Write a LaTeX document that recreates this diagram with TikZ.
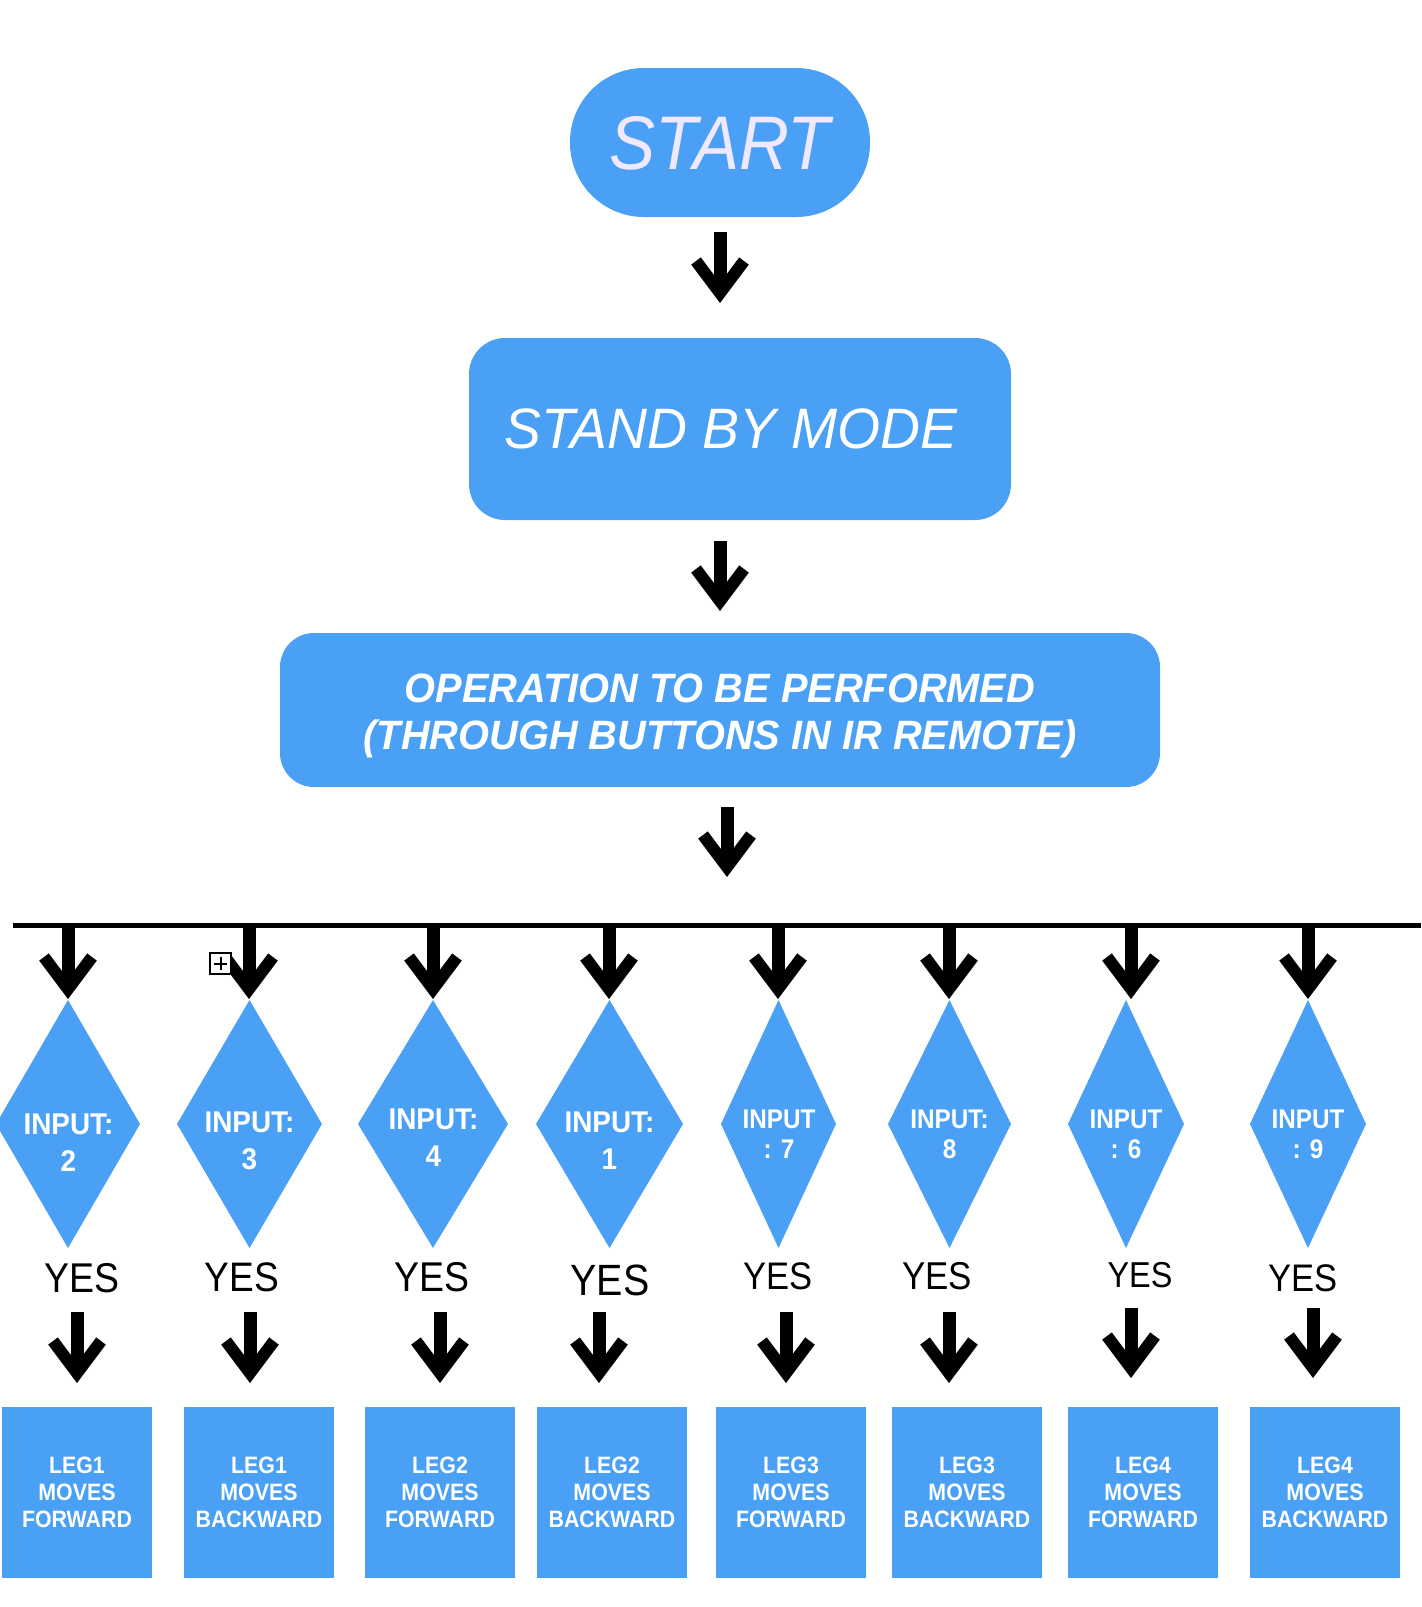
\documentclass[tikz,border=0pt]{standalone}
\usepackage{fontspec}
\setmainfont{Liberation Sans}
\newfontfamily\fStart[FakeStretch=0.91]{Liberation Sans}
\newfontfamily\fMid[FakeStretch=0.97]{Liberation Sans}
\newfontfamily\fDia[FakeStretch=0.93]{Liberation Sans}
\newfontfamily\fNar[FakeStretch=0.9]{Liberation Sans}
\usetikzlibrary{shapes.geometric}
\definecolor{fcblue}{HTML}{4AA0F5}
\definecolor{lav}{HTML}{EFE8FF}
\newcommand{\bigarr}[2]{%
  \draw[stemline] (#1) -- ([yshift=5pt]#2);
  \draw[chevline] ([shift={(-24,-42)}]#2) -- ([yshift=5pt]#2) -- ([shift={(24,-42)}]#2);
}
\begin{document}
\begin{tikzpicture}[x=0.5pt,y=-0.5pt,
  bluebox/.style={fill=fcblue, draw=none, inner sep=0pt, outer sep=0pt},
  dia/.style={diamond, fill=fcblue, draw=none, inner sep=0pt, outer sep=0pt, minimum height=124pt},
  dtxtA/.style={text=white, align=center, inner sep=0pt, font=\fDia\bfseries\fontsize{15}{18.5}\selectfont},
  dtxtB/.style={text=white, align=center, inner sep=0pt, font=\fNar\bfseries\fontsize{13.5}{15}\selectfont},
  legbox/.style={bluebox, minimum width=75pt, minimum height=85.5pt, text=white, align=center, font=\fNar\bfseries\fontsize{11.85}{13.5}\selectfont},
  yes/.style={anchor=base, inner sep=0pt, text=black},
  stemline/.style={line width=6.5pt, line cap=butt},
  chevline/.style={line width=6pt, line cap=butt, line join=miter, miter limit=10},
  busline/.style={line width=2.5pt}
]
\useasboundingbox (0,0) rectangle (1421,1607);

% top boxes
\node[bluebox, rounded corners=37pt, minimum width=150pt, minimum height=74.5pt, text=lav,
  font=\fStart\itshape\fontsize{38}{40}\selectfont, text depth=0pt] (start) at (720,142.5) {START};
\node[bluebox, rounded corners=18pt, minimum width=271pt, minimum height=91pt, text=white,
  font=\fMid\itshape\fontsize{28.5}{30}\selectfont, text depth=0pt] (standby) at (740,429) {STAND BY MODE\kern9pt};
\node[bluebox, rounded corners=17pt, minimum width=440pt, minimum height=77pt] (op) at (720,710) {};
\node[text=white, align=center, inner sep=0pt, text depth=0pt,
  font=\fMid\bfseries\itshape\fontsize{20.5}{23.5}\selectfont] (optext) at (720,712)
  {OPERATION TO BE PERFORMED\\(THROUGH BUTTONS IN IR REMOTE)};

% top arrows
\coordinate (a1s) at (720,232); \coordinate (a1e) at (720,303);
\coordinate (a2s) at (720,541); \coordinate (a2e) at (720,611);
\coordinate (a3s) at (727,807); \coordinate (a3e) at (727,877);
\bigarr{a1s}{a1e}
\bigarr{a2s}{a2e}
\bigarr{a3s}{a3e}

% bus line
\coordinate (busL) at (13,925); \coordinate (busR) at (1421,925);
\draw[busline] (busL) -- (busR);

% diamonds
\node[dia, minimum width=72pt]   (d1) at (68,1124) {};
\node[dia, minimum width=72.5pt] (d2) at (249.5,1124) {};
\node[dia, minimum width=75pt]   (d3) at (433,1124) {};
\node[dia, minimum width=73.5pt] (d4) at (609.5,1124) {};
\node[dia, minimum width=57.5pt] (d5) at (778.5,1124) {};
\node[dia, minimum width=61.5pt] (d6) at (949.5,1124) {};
\node[dia, minimum width=58pt]   (d7) at (1126,1124) {};
\node[dia, minimum width=58pt]   (d8) at (1308,1124) {};

\node[dtxtA] (l1) at (68.5,1142.75) {INPUT:\\2};
\node[dtxtA] (l2) at (249.5,1140.75) {INPUT:\\3};
\node[dtxtA] (l3) at (433.5,1137.75) {INPUT:\\4};
\node[dtxtA] (l4) at (609.5,1140.75) {INPUT:\\1};
\node[dtxtB] (l5) at (779,1134.4) {INPUT\\: 7};
\node[dtxtB] (l6) at (949.5,1134.4) {INPUT:\\8};
\node[dtxtB] (l7) at (1126,1134.4) {INPUT\\: 6};
\node[dtxtB] (l8) at (1308,1134.4) {INPUT\\: 9};

% arrows from bus to diamonds
\foreach \i/\x in {1/68,2/249,3/433,4/609,5/778,6/949,7/1131,8/1308}{
  \coordinate (bs\i) at (\x,928);
  \coordinate (be\i) at (\x,999);
  \bigarr{bs\i}{be\i}
}

% small box icon
\draw[fill=white, line width=1pt] (210,953) rectangle (231,974);
\draw[line width=1pt] (214,963.5) -- (227,963.5) (220.5,957) -- (220.5,970);

% YES labels
\node[yes, font=\fNar\fontsize{20.8}{22}\selectfont] (y1) at (82,1292) {YES};
\node[yes, font=\fNar\fontsize{20.6}{22}\selectfont] (y2) at (242,1291) {YES};
\node[yes, font=\fNar\fontsize{20.8}{22}\selectfont] (y3) at (432,1291) {YES};
\node[yes, font=\fNar\fontsize{21.9}{23}\selectfont] (y4) at (610,1295) {YES};
\node[yes, font=\fNar\fontsize{19.2}{21}\selectfont] (y5) at (778,1289) {YES};
\node[yes, font=\fNar\fontsize{19.4}{21}\selectfont] (y6) at (937,1289) {YES};
\node[yes, font=\fNar\fontsize{18}{20}\selectfont]   (y7) at (1140,1287) {YES};
\node[yes, font=\fNar\fontsize{19.2}{21}\selectfont] (y8) at (1303,1291) {YES};

% arrows to leg boxes
\foreach \i/\x/\ys/\ye in {1/77/1312/1383,2/250/1312/1383,3/440/1312/1383,4/599/1312/1383,5/786/1312/1383,6/949/1312/1383,7/1131/1308/1378,8/1313/1308/1378}{
  \coordinate (ls\i) at (\x,\ys);
  \coordinate (le\i) at (\x,\ye);
  \bigarr{ls\i}{le\i}
}

% leg boxes
\node[legbox] (b1) at (77,1492.5)   {LEG1\\MOVES\\FORWARD};
\node[legbox] (b2) at (259,1492.5)  {LEG1\\MOVES\\BACKWARD};
\node[legbox] (b3) at (440,1492.5)  {LEG2\\MOVES\\FORWARD};
\node[legbox] (b4) at (612,1492.5)  {LEG2\\MOVES\\BACKWARD};
\node[legbox] (b5) at (791,1492.5)  {LEG3\\MOVES\\FORWARD};
\node[legbox] (b6) at (967,1492.5)  {LEG3\\MOVES\\BACKWARD};
\node[legbox] (b7) at (1143,1492.5) {LEG4\\MOVES\\FORWARD};
\node[legbox] (b8) at (1325,1492.5) {LEG4\\MOVES\\BACKWARD};
\end{tikzpicture}
\end{document}
